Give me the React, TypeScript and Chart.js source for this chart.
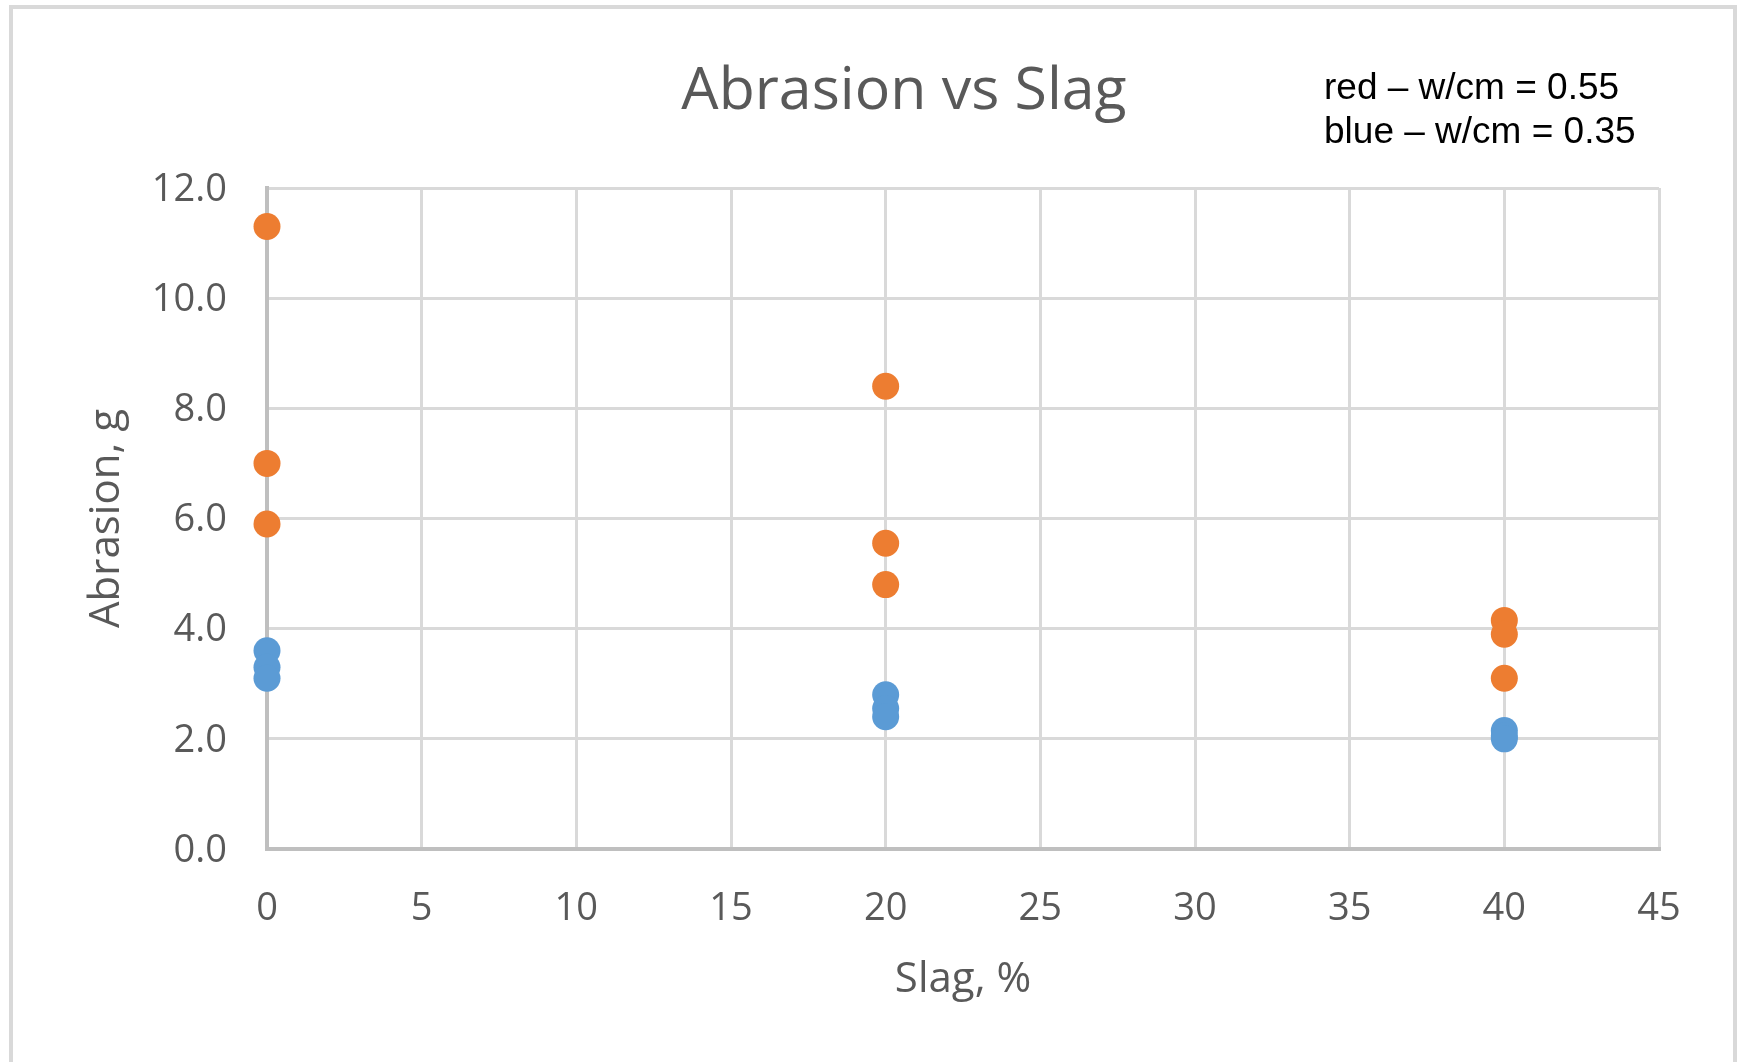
import React, { useEffect, useRef } from "react";
import { Chart, registerables } from "chart.js";

Chart.register(...registerables);

// Data
const redX = [0, 0, 0, 20, 20, 20, 40, 40, 40];
const redY = [11.3, 7.0, 5.9, 8.4, 5.55, 4.8, 4.15, 3.9, 3.1];
const blueX = [0, 0, 0, 20, 20, 20, 40, 40, 40];
const blueY = [3.6, 3.3, 3.1, 2.8, 2.55, 2.4, 2.15, 2.05, 2.0];

const chartTitle = "Abrasion vs Slag";
const noteLines = ["red – w/cm = 0.55", "blue – w/cm = 0.35"];
const xTitle = "Slag, %";
const yTitle = "Abrasion, g";
const xMin = 0;
const xMax = 45;
const xStep = 5;
const yMin = 0;
const yMax = 12;
const yStep = 2;

const W = 1739;
const H = 1062;
const GRAY_TEXT = "#595959";
const FONT = "'Open Sans', 'Noto Sans', sans-serif";

const decorPlugin = {
  id: "decor",
  beforeDraw(chart: any) {
    const ctx = chart.ctx;
    ctx.save();
    ctx.fillStyle = "#ffffff";
    ctx.fillRect(0, 0, chart.width, chart.height);
    ctx.strokeStyle = "#d9d9d9";
    ctx.lineWidth = 4;
    ctx.strokeRect(11, 7, 1724, 1080);
    ctx.restore();
  },
  afterDraw(chart: any) {
    const ctx = chart.ctx;
    ctx.save();
    ctx.fillStyle = GRAY_TEXT;
    ctx.font = `59px ${FONT}`;
    ctx.textAlign = "center";
    ctx.textBaseline = "alphabetic";
    ctx.fillText(chartTitle, 904, 109);

    ctx.fillStyle = "#000000";
    ctx.font = "37px 'Liberation Sans', Arial, sans-serif";
    ctx.textAlign = "left";
    ctx.fillText(noteLines[0], 1324, 99);
    ctx.fillText(noteLines[1], 1324, 143);
    ctx.restore();
  },
};

export default function App() {
  const canvasRef = useRef<HTMLCanvasElement | null>(null);

  useEffect(() => {
    document.body.style.margin = "0";
    const canvas = canvasRef.current;
    if (!canvas) return;
    const padLeft = 20;
    const chart = new Chart(canvas, {
      type: "scatter",
      data: {
        datasets: [
          {
            label: "w/cm = 0.35",
            data: blueX.map((x, i) => ({ x, y: blueY[i] })),
            backgroundColor: "#5B9BD5",
            borderWidth: 0,
            pointRadius: 13.5,
            pointHoverRadius: 13.5,
            clip: false,
          },
          {
            label: "w/cm = 0.55",
            data: redX.map((x, i) => ({ x, y: redY[i] })),
            backgroundColor: "#ED7D31",
            borderWidth: 0,
            pointRadius: 13.5,
            pointHoverRadius: 13.5,
            clip: false,
          },
        ],
      },
      options: {
        responsive: false,
        animation: false,
        devicePixelRatio: 1,
        layout: { padding: { left: padLeft, right: 80, top: 188, bottom: 53 } },
        plugins: {
          legend: { display: false },
          title: { display: false },
          tooltip: { enabled: false },
        },
        scales: {
          x: {
            type: "linear",
            min: xMin,
            max: xMax,
            ticks: {
              stepSize: xStep,
              color: GRAY_TEXT,
              font: { family: FONT, size: 38, lineHeight: 1.2 },
              padding: 37,
              maxRotation: 0,
            },
            grid: { color: "#d9d9d9", lineWidth: 3, drawTicks: false },
            border: { color: "#bfbfbf", width: 4 },
            title: {
              display: true,
              text: xTitle,
              color: GRAY_TEXT,
              font: { family: FONT, size: 42, lineHeight: 1.2 },
              padding: { top: 0, bottom: 4 },
            },
            afterFit: (s: any) => {
              s.height = 160;
            },
          },
          y: {
            type: "linear",
            min: yMin,
            max: yMax,
            ticks: {
              stepSize: yStep,
              color: GRAY_TEXT,
              font: { family: FONT, size: 38, lineHeight: 1.2 },
              padding: 40,
              labelOffset: 2,
              callback: (v: any) => Number(v).toFixed(1),
            },
            grid: { color: "#d9d9d9", lineWidth: 3, drawTicks: false },
            border: { color: "#bfbfbf", width: 4 },
            title: {
              display: true,
              text: yTitle,
              color: GRAY_TEXT,
              font: { family: FONT, size: 42, lineHeight: 1.2 },
              padding: { top: 62, bottom: 0 },
            },
            afterFit: (s: any) => {
              s.width = 267 - padLeft;
            },
          },
        },
      },
      plugins: [decorPlugin],
    } as any);
    return () => chart.destroy();
  }, []);

  return (
    <div style={{ width: W, height: H, position: "relative" }}>
      <canvas ref={canvasRef} width={W} height={H} style={{ width: W, height: H, display: "block" }} />
    </div>
  );
}
